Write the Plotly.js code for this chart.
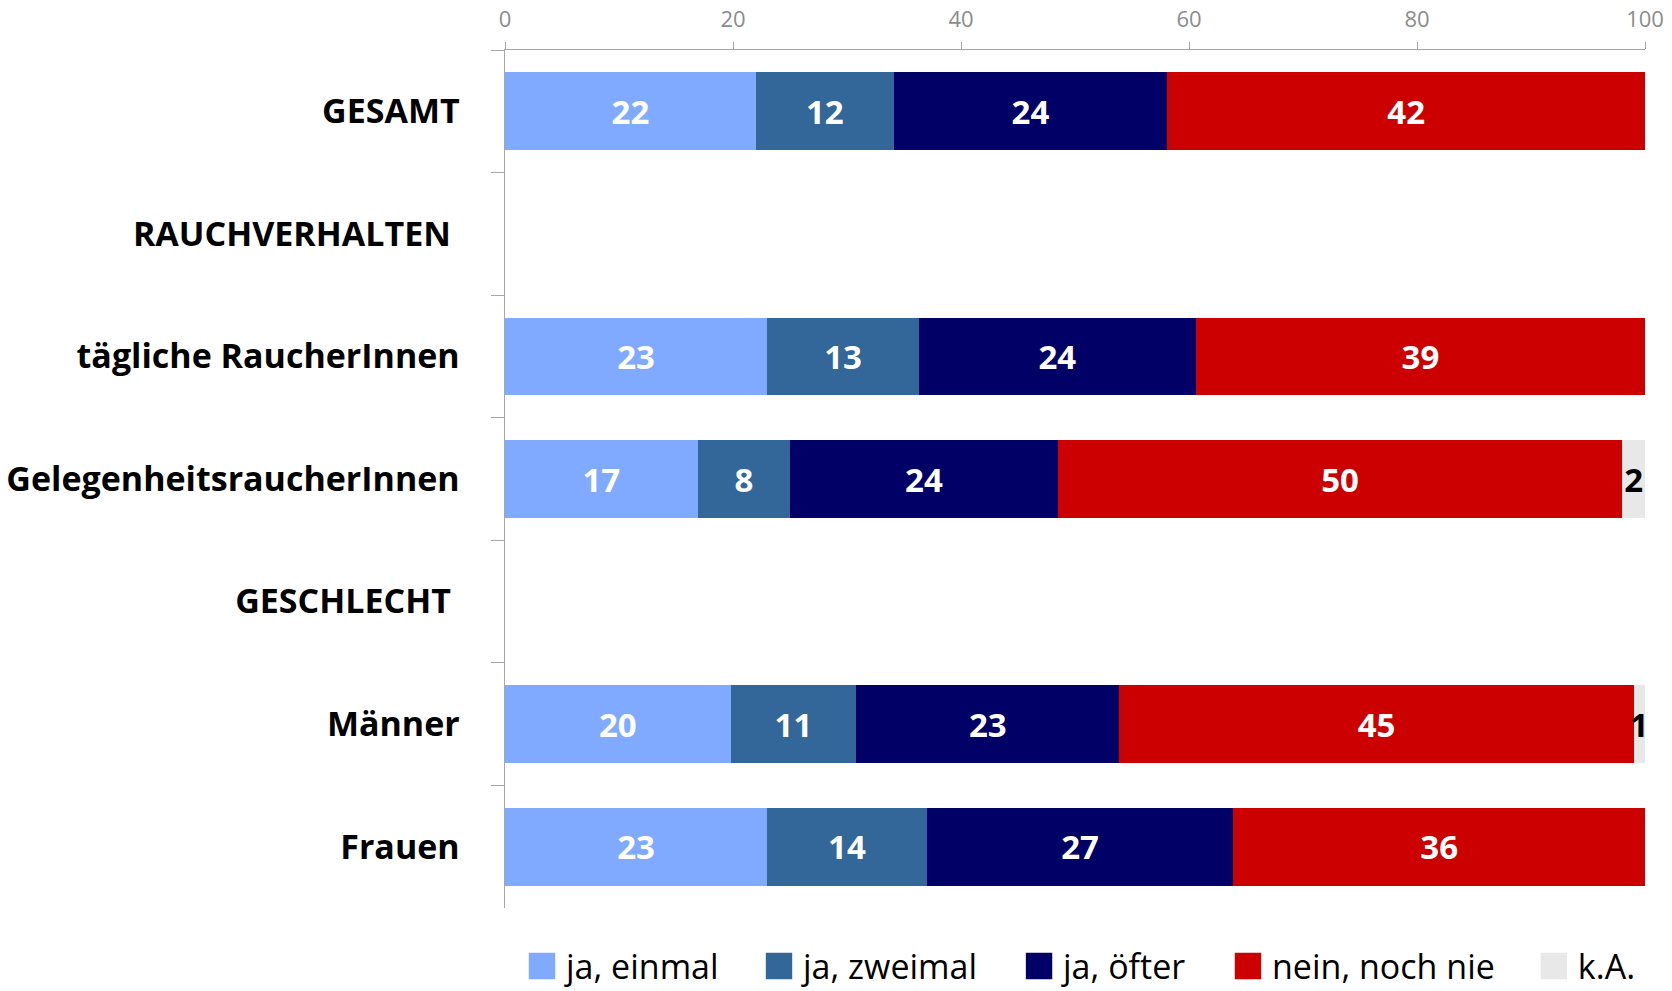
<!DOCTYPE html>
<html>
<head>
<meta charset="utf-8">
<script src="https://cdn.plot.ly/plotly-3.0.1.min.js"></script>
<style>
  html, body { margin: 0; padding: 0; background: #fff; }
  #chart { width: 1672px; height: 991px; }
</style>
</head>
<body>
<div id="chart"></div>
<script>
// Categories (top to bottom)
const categories = [
  "GESAMT",
  "RAUCHVERHALTEN\u00a0",
  "tägliche RaucherInnen",
  "GelegenheitsraucherInnen",
  "GESCHLECHT\u00a0",
  "Männer",
  "Frauen"
];

// Series values in percent (null = no bar)
const jaEinmal   = [22.0, null, 23.0, 16.9, null, 19.8, 23.0];
const jaZweimal  = [12.1, null, 13.3,  8.1, null, 11.0, 14.0];
const jaOefter   = [24.0, null, 24.3, 23.5, null, 23.1, 26.9];
const neinNie    = [41.9, null, 39.4, 49.5, null, 45.1, 36.1];
const keineAngabe= [null, null, null,  2.0, null,  1.0, null];

const seriesNames  = ["ja, einmal", "ja, zweimal", "ja, öfter", "nein, noch nie", "k.A."];
const seriesValues = [jaEinmal, jaZweimal, jaOefter, neinNie, keineAngabe];
const seriesColors = ["#7FAAFF", "#336699", "#000066", "#CC0000", "#E8E8E8"];
const textColors   = ["#FFFFFF", "#FFFFFF", "#FFFFFF", "#FFFFFF", "#000000"];
const legendIds    = ["legend", "legend2", "legend3", "legend4", "legend5"];
const legendX      = [0.0114, 0.2193, 0.4474, 0.6307, 0.899];

const xTicks = [0, 20, 40, 60, 80, 100];

const traces = seriesNames.map((name, i) => ({
  type: "bar",
  orientation: "h",
  name: name,
  legend: legendIds[i],
  y: categories,
  x: seriesValues[i],
  marker: { color: seriesColors[i], line: { width: 0 } },
  texttemplate: "%{x:.0f}",
  textposition: "inside",
  insidetextanchor: "middle",
  constraintext: "none",
  textangle: 0,
  cliponaxis: false,
  textfont: { family: "Open Sans", size: 33, color: textColors[i], weight: "bold" },
  hoverinfo: "name+x"
}));

const layout = {
  width: 1672,
  height: 991,
  barmode: "stack",
  bargap: 0.365,
  paper_bgcolor: "#FFFFFF",
  plot_bgcolor: "#FFFFFF",
  margin: { l: 505, r: 27, t: 50, b: 83, pad: 0, autoexpand: false },
  showlegend: true,
  xaxis: {
    side: "top",
    range: [0, 100],
    tickvals: xTicks,
    ticktext: xTicks.map(String),
    showgrid: false,
    zeroline: false,
    showline: true,
    linecolor: "#A6A6A6",
    linewidth: 1.5,
    ticks: "outside",
    ticklen: 7,
    tickcolor: "#A6A6A6",
    tickwidth: 1,
    ticklabelstandoff: 6,
    tickfont: { family: "Liberation Sans Narrow, Open Sans", size: 22, color: "#8C8C8C" },
    fixedrange: true
  },
  yaxis: {
    type: "category",
    autorange: "reversed",
    showgrid: false,
    zeroline: false,
    showline: true,
    linecolor: "#A6A6A6",
    linewidth: 1.5,
    ticks: "outside",
    tickson: "boundaries",
    ticklen: 13,
    tickcolor: "#A6A6A6",
    tickwidth: 1,
    ticklabelstandoff: 37,
    tickfont: { family: "Open Sans", size: 34, color: "#000000", weight: "bold" },
    fixedrange: true
  }
};

legendIds.forEach((id, i) => {
  layout[id] = {
    orientation: "h",
    x: legendX[i],
    xanchor: "left",
    y: -0.068,
    yanchor: "middle",
    font: { family: "Open Sans", size: 34, color: "#000000" },
    itemwidth: 38,
    bgcolor: "rgba(0,0,0,0)",
    borderwidth: 0
  };
});

Plotly.newPlot("chart", traces, layout, { displayModeBar: false, staticPlot: true }).then(gd => {
  // enlarge legend swatches to match the reference's square keys
  gd.querySelectorAll(".legendpoints path").forEach(p => {
    p.setAttribute("transform", (p.getAttribute("transform") || "") + " scale(2.2)");
  });
});
</script>
</body>
</html>
